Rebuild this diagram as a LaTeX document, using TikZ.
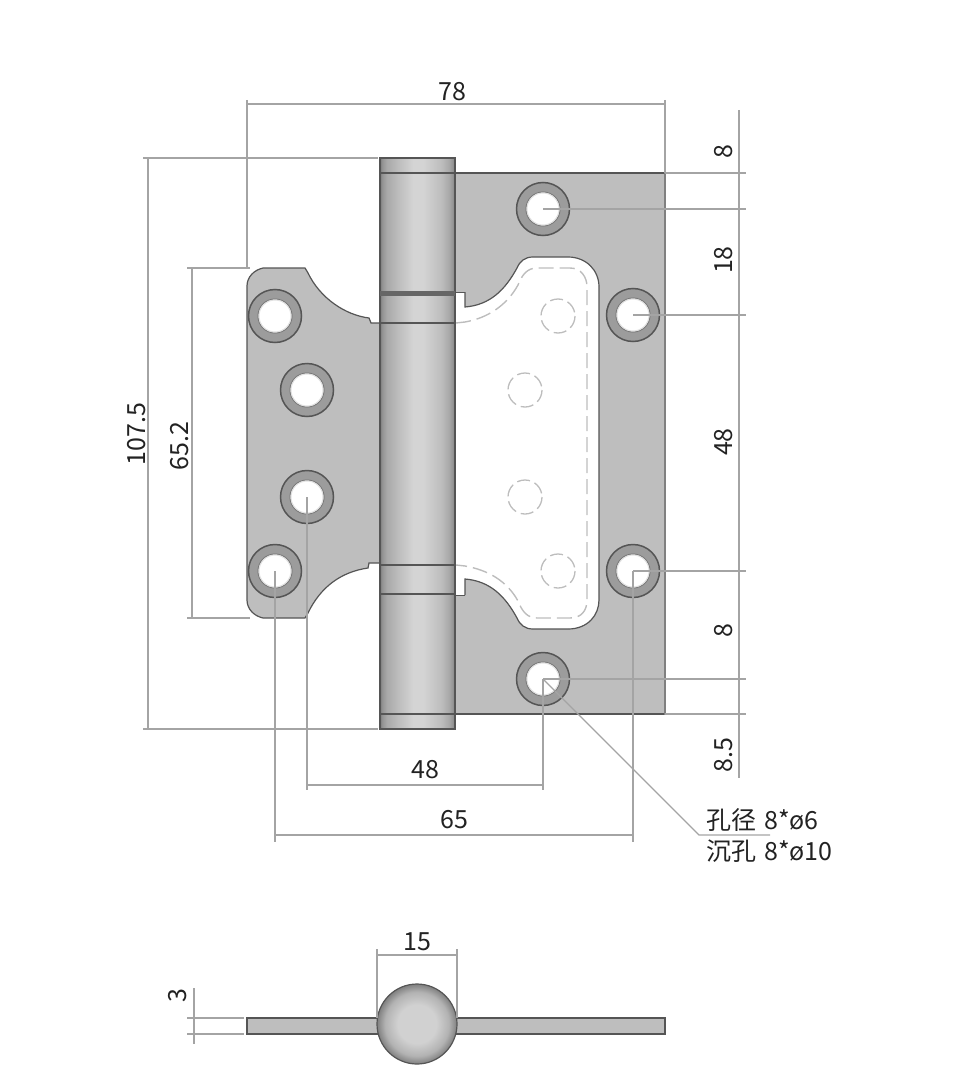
\documentclass[tikz,border=0pt]{standalone}
\usepackage{fontspec}
\setmainfont{Noto Sans CJK SC}
\definecolor{leaf}{HTML}{BEBEBE}
\definecolor{edge}{HTML}{555555}
\definecolor{dimc}{HTML}{A4A4A4}
\definecolor{dashc}{HTML}{BDBDBD}
\definecolor{ringc}{HTML}{9C9C9C}
\definecolor{txt}{HTML}{222222}
\pgfdeclarehorizontalshading{pinshade}{100bp}{
 rgb(0bp)=(0.48,0.48,0.48); rgb(25bp)=(0.48,0.48,0.48); rgb(26.5bp)=(0.58,0.58,0.58); rgb(29.5bp)=(0.66,0.66,0.66);
 rgb(37bp)=(0.74,0.74,0.74); rgb(47bp)=(0.83,0.83,0.83); rgb(54bp)=(0.83,0.83,0.83); rgb(66bp)=(0.74,0.74,0.74);
 rgb(71bp)=(0.66,0.66,0.66); rgb(73.5bp)=(0.58,0.58,0.58); rgb(75bp)=(0.48,0.48,0.48); rgb(100bp)=(0.48,0.48,0.48)}
\pgfdeclareradialshading{knob}{\pgfpoint{0bp}{0bp}}{
 rgb(0bp)=(0.82,0.82,0.82); rgb(12bp)=(0.82,0.82,0.82); rgb(20bp)=(0.70,0.70,0.70);
 rgb(25bp)=(0.50,0.50,0.50); rgb(50bp)=(0.50,0.50,0.50)}
\tikzset{
 dimline/.style={draw=dimc,line width=1.1pt},
 dimtext/.style={font=\fontsize{25}{29}\selectfont,text=txt,inner sep=0pt},
 dashline/.style={draw=dashc,line width=1.4pt,dash pattern=on 15pt off 6pt},
 dashcirc/.style={draw=dashc,line width=1.3pt,dash pattern=on 13pt off 5pt},
 outl/.style={draw=edge,line width=1.2pt},
 band/.style={draw=edge,line width=2.6pt},
}
\begin{document}
\begin{tikzpicture}[x=1pt,y=-1pt]
\useasboundingbox (0,0) rectangle (960,1070);
% named hole centres
\foreach \n/\p in {ha/{543,209},hb/{633,315},hc/{633,571},hd/{543,679},he/{275,316},hf/{307,390},hg/{307,497},hh/{275,571}}
  {\coordinate (\n) at (\p);}
% right leaf
\fill[leaf] (455,173) -- (665,173) -- (665,714) -- (455,714) -- (455,595) -- (465,595) -- (465,579)
  .. controls (490,581) and (505,596) .. (517,618)
  .. controls (520,625) and (525,629) .. (533,629) -- (568,629)
  .. controls (588,629) and (599,615) .. (599,600) -- (599,287)
  .. controls (599,270) and (586,257) .. (568,257) -- (533,257)
  .. controls (525,257) and (520,261) .. (517,268)
  .. controls (505,290) and (490,305) .. (465,307) -- (465,292) -- (455,292) -- cycle;
\draw[outl] (465,595) -- (465,579)
  .. controls (490,581) and (505,596) .. (517,618)
  .. controls (520,625) and (525,629) .. (533,629) -- (568,629)
  .. controls (588,629) and (599,615) .. (599,600) -- (599,287)
  .. controls (599,270) and (586,257) .. (568,257) -- (533,257)
  .. controls (525,257) and (520,261) .. (517,268)
  .. controls (505,290) and (490,305) .. (465,307) -- (465,292);
\draw[draw=edge,line width=1.2pt] (455,173) -- (665,173);
\draw[draw=edge,line width=1.2pt] (455,714) -- (665,714);
\draw[draw=edge,line width=0.8pt] (455,292) -- (465,292) (455,595) -- (465,595);
\draw[draw=gray,line width=2.4pt] (665,172) -- (665,715);
% hidden outline
\draw[dashline] (456,323) -- (465,322) .. controls (488,318) and (507,305) .. (518,285)
  .. controls (522,275) and (527,268) .. (537,268) -- (570,268)
  .. controls (581,268) and (587,277) .. (587,287) -- (587,600)
  .. controls (587,611) and (581,618) .. (570,618) -- (537,618)
  .. controls (527,618) and (522,611) .. (518,601)
  .. controls (507,581) and (488,570) .. (465,566) -- (456,565);
\foreach \c in {(558,316),(525,390),(525,497),(558,571)}
  \draw[dashcirc] \c circle[radius=17];
% left leaf
\draw[outl,fill=leaf] (380,323) -- (371,323) -- (369,318)
  .. controls (345,315) and (320,298) .. (308,273) -- (305,268) -- (263,268)
  .. controls (254,270) and (247,277) .. (247,286) -- (247,600)
  .. controls (247,609) and (254,616) .. (263,618) -- (305,618) -- (308,613)
  .. controls (320,588) and (340,572) .. (368,568) -- (369,563) -- (380,563) -- cycle;
% pin
\shade[shading=pinshade] (380,158) rectangle (455,729);
\draw[draw=edge,line width=1.4pt] (380,158) rectangle (455,729);
\draw[draw=edge,line width=1.8pt] (380,173) -- (455,173) (380,714) -- (455,714);
\draw[band] (380,323) -- (455,323) (380,565) -- (455,565);
\draw[draw=edge!90,line width=5pt] (380,293) -- (455,293);
\draw[band] (380,594) -- (455,594);
% holes
\foreach \n in {ha,hb,hc,hd,he,hf,hg,hh}{
  \draw[draw=edge,line width=1.5pt,fill=ringc] (\n) circle[radius=26.5];
  \draw[draw=edge!80,line width=1pt,fill=white] (\n) circle[radius=17];
  \draw[draw=ringc!30,line width=1pt] (\n) circle[radius=16];
}
% dimension: top 78
\draw[dimline] (247,104) -- (665,104) (247,100) -- (247,268) (665,100) -- (665,173);
% 107.5
\draw[dimline] (148,158) -- (148,729) (143,158) -- (378,158) (143,729) -- (378,729);
% 65.2
\draw[dimline] (192,268) -- (192,618) (187,268) -- (250,268) (187,618) -- (250,618);
% right chain
\draw[dimline] (739,110) -- (739,778);
\draw[dimline] (665,173) -- (746,173) (665,714) -- (746,714);
\draw[dimline] (ha) -- (746,209);
\draw[dimline] (hb) -- (746,315);
\draw[dimline] (hc) -- (746,571);
\draw[dimline] (hd) -- (746,679);
% bottom dims
\draw[dimline] (307,785) -- (543,785) (hg) -- (307,790) (hd) -- (543,790);
\draw[dimline] (275,835) -- (633,835) (hh) -- (275,842) (hc) -- (633,842);
% leader
\coordinate (lk) at (699,835);
\coordinate (le) at (770,835);
\draw[dimline] (hd) -- (lk) -- (le);
% side view
\draw[draw=edge,line width=1.2pt,fill=leaf] (247,1018) rectangle (665,1034);
\shade[shading=knob] (417,1024) circle[radius=40];
\draw[draw=edge,line width=1.2pt] (417,1024) circle[radius=40];
\draw[dimline] (377,955) -- (457,955) (377,949) -- (377,1018) (457,949) -- (457,1018);
\draw[dimline] (194,988) -- (194,1044) (187,1018) -- (244,1018) (187,1034) -- (244,1034);
% labels
\node[dimtext] (t78) at (452,92) {78};
\node[dimtext,rotate=90] (t107) at (137,434) {107.5};
\node[dimtext,rotate=90] (t65b) at (180,446) {65.2};
\node[dimtext,rotate=90] (r8a) at (724,152) {8};
\node[dimtext,rotate=90] (r18) at (724,260) {18};
\node[dimtext,rotate=90] (r48) at (724,442) {48};
\node[dimtext,rotate=90] (r8b) at (724,631) {8};
\node[dimtext,rotate=90] (r85) at (724,755) {8.5};
\node[dimtext] (b48) at (425,770) {48};
\node[dimtext] (b65) at (454,820) {65};
\node[dimtext,anchor=west] (la) at (706,820) {孔径\hspace{8pt}8*ø6};
\node[dimtext,anchor=west] (lb) at (706,851) {沉孔\hspace{8pt}8*ø10};
\node[dimtext] (s15) at (417,942) {15};
\node[dimtext,rotate=90] (s3) at (178,996) {3};
\end{tikzpicture}
\end{document}
